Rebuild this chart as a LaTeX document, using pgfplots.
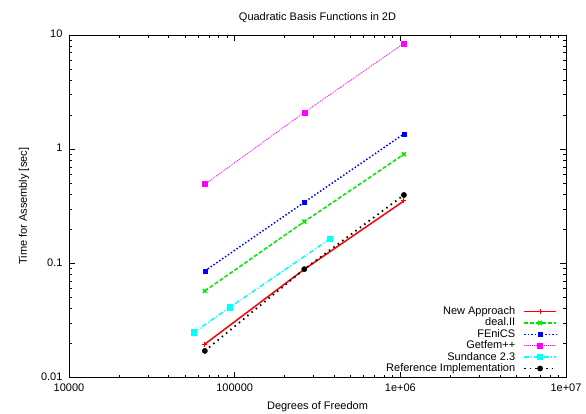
\documentclass[border=0pt]{standalone}
\usepackage{pgfplots}
\pgfplotsset{compat=1.18}
\usepackage{fontspec}
\setmainfont{Liberation Sans}
\definecolor{gred}{RGB}{255,0,0}
\definecolor{ggreen}{RGB}{0,230,0}
\definecolor{gblue}{RGB}{0,0,255}
\definecolor{gmag}{RGB}{255,0,255}
\definecolor{gcyan}{RGB}{0,255,255}
\begin{document}
\begin{tikzpicture}[font=\fontsize{11}{13}\selectfont]
\begin{axis}[
  at={(0,0)}, anchor=south west,
  scale only axis, width=497pt, height=342.5pt,
  xmode=log, ymode=log,
  xmin=1e4, xmax=1e7, ymin=0.01, ymax=10,
  xtick={1e4,1e5,1e6,1e7}, xticklabels={10000,100000,1e+06,1e+07},
  ytick={0.01,0.1,1,10}, yticklabels={0.01,0.1,1,10},
  yticklabel style={xshift=-3pt, yshift=1pt},
  xticklabel style={yshift=-2.5pt},
  tick align=inside, major tick length=6pt, minor tick length=3pt,
  tick style={black, line width=0.6pt},
  axis line style={line width=1pt},
  title={Quadratic Basis Functions in 2D},
  title style={at={(axis description cs:0.5,1.024)}, anchor=base},
  xlabel={Degrees of Freedom},
  xlabel style={at={(axis description cs:0.5,-0.092)}, anchor=base},
  ylabel={Time for Assembly [sec]},
  ylabel style={at={(axis description cs:-0.085,0.5)}, anchor=base},
  legend plot pos=right,
  legend cell align=right,
  legend style={at={(1,0)}, anchor=south east, xshift=-9pt, yshift=4pt,
    draw=none, fill=none, inner sep=0pt, outer sep=0pt,
    nodes={inner sep=0pt, text height=8pt, text depth=2pt},
    row sep=1.4pt, column sep=8pt},
  legend image code/.code={\draw[mark repeat=2,mark phase=2,#1] plot coordinates {(0pt,0pt)(16pt,0pt)(32pt,0pt)};},
]
\addplot[gred, line width=1.5pt, mark=+, mark size=2.5pt, mark options={solid, line width=1pt}]
  coordinates {(66049,0.0196) (263169,0.0887) (1050625,0.352)};
\addlegendentry{New Approach}
\addplot[ggreen, line width=1.5pt, dash pattern=on 4pt off 2pt, mark=x, mark size=2.8pt, mark options={solid, line width=1.5pt}]
  coordinates {(66049,0.0573) (263169,0.232) (1050625,0.902)};
\addlegendentry{deal.II}
\addplot[gblue, line width=1.5pt, dash pattern=on 1.5pt off 2pt, mark=square*, mark size=2pt, mark options={solid, line width=0.5pt}]
  coordinates {(66049,0.0858) (263169,0.343) (1050625,1.36)};
\addlegendentry{FEniCS}
\addplot[gmag, line width=0.8pt, dash pattern=on 1pt off 1pt, mark=square*, mark size=2.5pt, mark options={solid, line width=0.5pt}]
  coordinates {(66049,0.493) (263169,2.10) (1050625,8.46)};
\addlegendentry{Getfem++}
\addplot[gcyan, line width=1.5pt, dash pattern=on 5pt off 2pt on 1pt off 2pt, mark=square*, mark size=2.6pt, mark options={solid, line width=0.5pt}]
  coordinates {(56800,0.0249) (93700,0.0413) (376000,0.1637)};
\addlegendentry{Sundance 2.3}
\addplot[black, line width=1.8pt, dash pattern=on 1.5pt off 4pt, mark=*, mark size=2.6pt, mark options={solid, line width=0.5pt}]
  coordinates {(66049,0.0171) (263169,0.0889) (1050625,0.397)};
\addlegendentry{Reference Implementation}
\end{axis}
\pgfresetboundingbox
\path (-69pt,-35.5pt) rectangle (517pt,377.5pt);
\end{tikzpicture}
\end{document}
